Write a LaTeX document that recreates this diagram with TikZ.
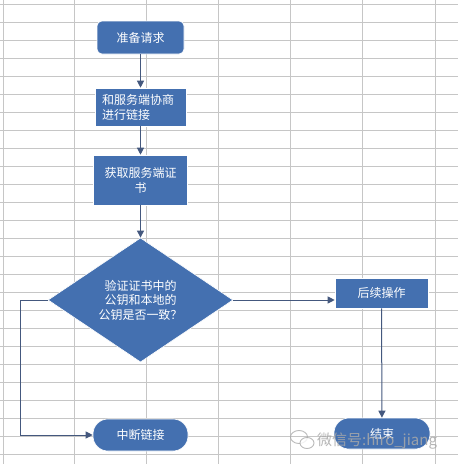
\documentclass[tikz,border=0pt]{standalone}
\usepackage{fontspec}
\setmainfont{Noto Sans CJK SC}
\usetikzlibrary{shapes.geometric,arrows.meta}
\definecolor{boxblue}{HTML}{4470B0}
\definecolor{arrowc}{HTML}{44587E}
\definecolor{gridc}{HTML}{C6C6C6}
\definecolor{wmark}{HTML}{A9A9A9}
\tikzset{
  box/.style={fill=boxblue, draw=white, line width=0.6pt, text=white, inner sep=0pt,
    font=\fontsize{12}{15}\selectfont, align=center},
  arr/.style={draw=arrowc, line width=1pt, -{Triangle[length=7pt,width=7pt]}},
  gridline/.style={draw=gridc, line width=0.8pt}
}
\begin{document}
\begin{tikzpicture}[x=1pt,y=-1pt]
\useasboundingbox (0,0) rectangle (458,464);
\fill[white] (0,0) rectangle (458,464);
% grid
\foreach \k in {0,...,25} {\draw[gridline] (0,4.3+18*\k) -- (458,4.3+18*\k);}
\foreach \xx in {3,74,146.5,218,290,362.5,435} {\draw[gridline] (\xx,0) -- (\xx,464);}
% nodes
\node[box, rounded corners=5pt, minimum width=87, minimum height=33] (n1) at (140.5,37.5) {准备请求};
\node[box, minimum width=91, minimum height=38, text width=77, align=left] (n2) at (140.5,107) {和服务端协商\\进行链接};
\node[box, minimum width=94, minimum height=50] (n3) at (140.5,180) {获取服务端证\\书};
\node[box, diamond, minimum width=185, minimum height=114, font=\fontsize{12}{14.5}\selectfont] (d) at (140.5,300) {验证证书中的\\公钥和本地的\\公钥是否一致？};
\node[box, minimum width=93, minimum height=30] (op) at (381.5,293) {后续操作};
\node[box, rounded corners=15pt, minimum width=95, minimum height=32] (stop) at (140.5,435) {中断链接};
\node[box, rounded corners=15pt, minimum width=96, minimum height=31] (fin) at (382,433.5) {结束};
\coordinate (corner) at (20.5,300);
% connectors
\draw[arr] (n1) -- (n2);
\draw[arr] (n2) -- (n3);
\draw[arr] (n3) -- (d);
\draw[arr] (d.east) -- (d.east -| op.west);
\draw[arr] (d.west) -- (corner) |- (stop.west);
\draw[arr] (op) -- (fin);
% watermark
\begin{scope}[draw=wmark, line width=0.9pt, opacity=0.8]
\draw (299,437) ellipse [x radius=8.5, y radius=6.5];
\draw[fill=white] (307,443) ellipse [x radius=7, y radius=5.5];
\end{scope}
\node[anchor=west, text=wmark, opacity=0.85, inner sep=0pt, font=\fontsize{15}{15}\selectfont] (wm) at (317,441) {微信号:hiro\_jiang};
\end{tikzpicture}
\end{document}
